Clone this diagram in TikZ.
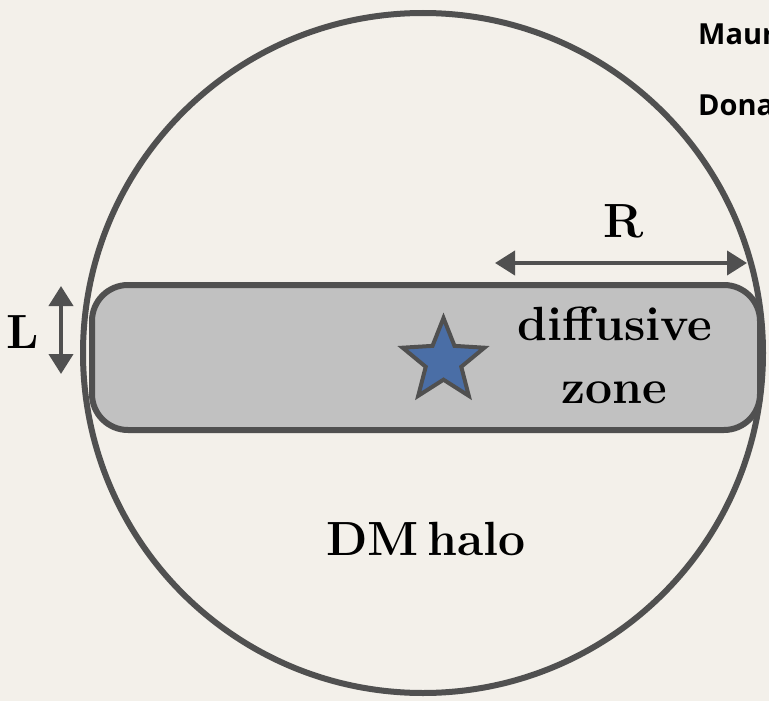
\documentclass[tikz,border=0pt]{standalone}
\usepackage{fontspec}
\newfontfamily\gillfont{Open Sans}
\usetikzlibrary{shapes.geometric,arrows.meta}
\definecolor{bgcol}{HTML}{F3F0EA}
\definecolor{linecol}{HTML}{505050}
\definecolor{zonecol}{HTML}{C1C1C1}
\definecolor{starcol}{HTML}{4A6EA6}
\tikzset{
  outline/.style={draw=linecol, line width=6pt},
  dimarrow/.style={draw=linecol, line width=4pt, {Triangle[length=20pt,width=24pt]}-{Triangle[length=20pt,width=24pt]}},
  bigtext/.style={font=\fontsize{48}{52}\selectfont\bfseries, text=black, inner sep=0pt, anchor=base},
  authortext/.style={font=\gillfont\fontsize{29}{31}\selectfont\bfseries, text=black, inner sep=0pt, anchor=base west}
}
\begin{document}
\begin{tikzpicture}[x=1pt,y=-1pt]
\useasboundingbox (0,0) rectangle (769,701);
\fill[bgcol] (0,0) rectangle (769,701);
% halo circle
\node[outline, circle, minimum size=680pt, inner sep=0pt] (halo) at (423,353) {};
% diffusive zone box
\node[outline, fill=zonecol, rounded corners=36pt, minimum width=668pt, minimum height=145pt, inner sep=0pt] (zone) at (426,357.5) {};
% star
\node[draw=linecol, line width=4pt, fill=starcol, star, star points=5, star point ratio=2.3, minimum size=86pt, inner sep=0pt] (star) at (443.5,361) {};
% texts
\node[bigtext] (tdiff) at (615,340) {diffusive};
\node[bigtext] (tzone) at (614,403) {zone};
\node[bigtext] (tdm) at (426,555) {DM\,halo};
\node[bigtext] (tR) at (624,237) {R};
\node[bigtext] (tL) at (23,348) {L};
\node[authortext] (a1) at (698,45) {Maur};
\node[authortext] (a2) at (698,115) {Dona};
% dimension arrows
\coordinate (rL) at (495,263);
\coordinate (rR) at (747,263);
\draw[dimarrow] (rL) -- (rR);
\coordinate (lT) at (61,286);
\coordinate (lB) at (61,374);
\draw[dimarrow] (lT) -- (lB);
\end{tikzpicture}
\end{document}
